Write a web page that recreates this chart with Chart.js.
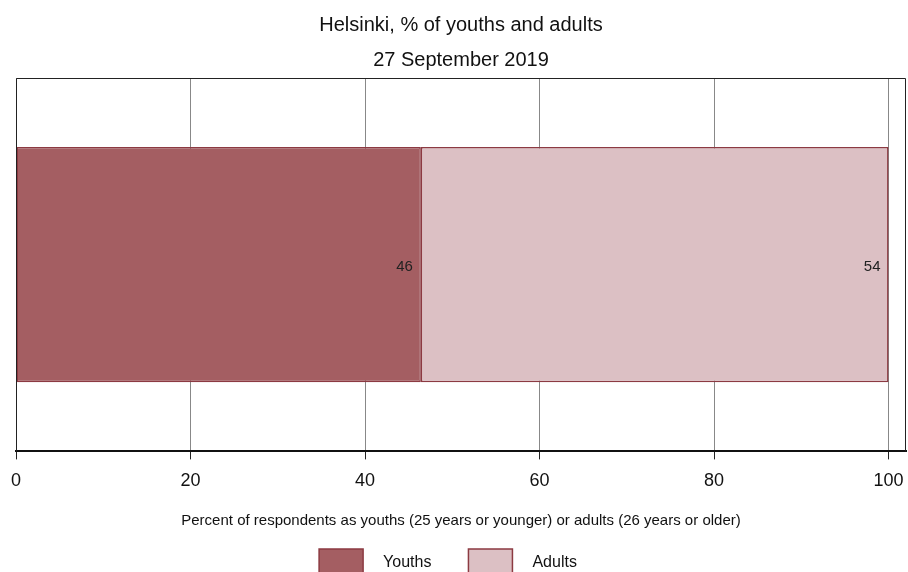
<!DOCTYPE html>
<html>
<head>
<meta charset="utf-8">
<script src="https://cdn.jsdelivr.net/npm/chart.js@4/dist/chart.umd.min.js"></script>
<style>
    html, body { margin: 0; padding: 0; background: #fff; }
    #wrap { width: 908px; height: 572px; }
</style>
</head>
<body>
<div id="wrap"><canvas id="chart"></canvas></div>
<script>
const categories = ['Helsinki'];
const seriesNames = ['Youths', 'Adults'];
const youths = [46.4];
const adults = [53.6];
const xTicks = [0, 20, 40, 60, 80, 100];

const fontFamily = '"Liberation Sans", Arial, sans-serif';

// frame around the plot area (top and right sides, left side)
const framePlugin = {
    id: 'frame',
    afterDraw(chart) {
        const { ctx, chartArea } = chart;
        ctx.save();
        ctx.strokeStyle = '#222';
        ctx.lineWidth = 1;
        ctx.beginPath();
        ctx.moveTo(chartArea.left + 0.5, chartArea.bottom);
        ctx.lineTo(chartArea.left + 0.5, chartArea.top + 0.5);
        ctx.lineTo(chartArea.right - 0.5, chartArea.top + 0.5);
        ctx.lineTo(chartArea.right - 0.5, chartArea.bottom);
        ctx.stroke();
        ctx.restore();
    }
};

// value labels at the inner end of each segment
const valueLabels = {
    id: 'valueLabels',
    afterDatasetsDraw(chart) {
        const ctx = chart.ctx;
        ctx.save();
        ctx.font = '15px ' + fontFamily;
        ctx.fillStyle = '#222';
        ctx.textAlign = 'right';
        ctx.textBaseline = 'middle';
        chart.data.datasets.forEach((ds, i) => {
            chart.getDatasetMeta(i).data.forEach((bar, j) => {
                ctx.fillText(Math.round(ds.data[j]), bar.x - 8, bar.y + 2);
            });
        });
        ctx.restore();
    }
};

// legend with wider gaps than the built-in one allows
const bottomLegend = {
    id: 'bottomLegend',
    afterDraw(chart) {
        const ctx = chart.ctx;
        const boxW = 44, boxH = 26, textGap = 20, itemGap = 37;
        ctx.save();
        ctx.font = '16px ' + fontFamily;
        const items = chart.data.datasets.map(ds => ({
            ds, w: boxW + textGap + ctx.measureText(ds.label).width
        }));
        const total = items.reduce((a, it) => a + it.w, 0) + itemGap * (items.length - 1);
        let x = (chart.width - total) / 2 - 6;
        const cy = chart.height - 10;
        items.forEach(it => {
            ctx.fillStyle = it.ds.backgroundColor;
            ctx.fillRect(x, cy - boxH / 2, boxW, boxH);
            ctx.strokeStyle = it.ds.borderColor;
            ctx.lineWidth = 1.5;
            ctx.strokeRect(x, cy - boxH / 2, boxW, boxH);
            ctx.fillStyle = '#111';
            ctx.textAlign = 'left';
            ctx.textBaseline = 'middle';
            ctx.fillText(it.ds.label, x + boxW + textGap, cy + 1);
            x += it.w + itemGap;
        });
        ctx.restore();
    }
};

new Chart(document.getElementById('chart'), {
    type: 'bar',
    data: {
        labels: categories,
        datasets: [{
            label: seriesNames[0],
            data: youths,
            backgroundColor: '#a45e62',
            borderColor: '#8c3a42',
            borderWidth: 1.5,
            borderSkipped: false
        }, {
            label: seriesNames[1],
            data: adults,
            backgroundColor: '#dcc0c4',
            borderColor: '#8c3a42',
            borderWidth: 1.5,
            borderSkipped: false
        }]
    },
    options: {
        indexAxis: 'y',
        responsive: true,
        maintainAspectRatio: false,
        animation: false,
        barPercentage: 0.63,
        categoryPercentage: 1,
        layout: { padding: { left: 16, right: 2, top: 0, bottom: 31 } },
        scales: {
            x: {
                stacked: true,
                min: 0,
                max: 102,
                afterBuildTicks: axis => {
                    axis.ticks = xTicks.map(v => ({ value: v }));
                },
                afterFit: axis => {
                    // labels may overhang the plot edges
                    axis.paddingLeft = 0;
                    axis.paddingRight = 0;
                },
                grid: {
                    color: '#888',
                    lineWidth: 1,
                    tickColor: '#222',
                    tickLength: 8
                },
                border: { color: '#111', width: 2 },
                ticks: {
                    color: '#111',
                    padding: 11,
                    font: { family: fontFamily, size: 18 }
                },
                title: {
                    display: true,
                    text: 'Percent of respondents as youths (25 years or younger) or adults (26 years or older)',
                    color: '#111',
                    font: { family: fontFamily, size: 15 },
                    padding: { top: 9, bottom: 11 }
                }
            },
            y: {
                stacked: true,
                display: false
            }
        },
        plugins: {
            title: {
                display: true,
                text: ['Helsinki, % of youths and adults', '27 September 2019'],
                color: '#111',
                font: { family: fontFamily, size: 20, weight: 'normal', lineHeight: 1.75 },
                padding: { top: 8, bottom: 0 }
            },
            legend: { display: false },
            tooltip: { enabled: false }
        }
    },
    plugins: [framePlugin, valueLabels, bottomLegend]
});
</script>
</body>
</html>
